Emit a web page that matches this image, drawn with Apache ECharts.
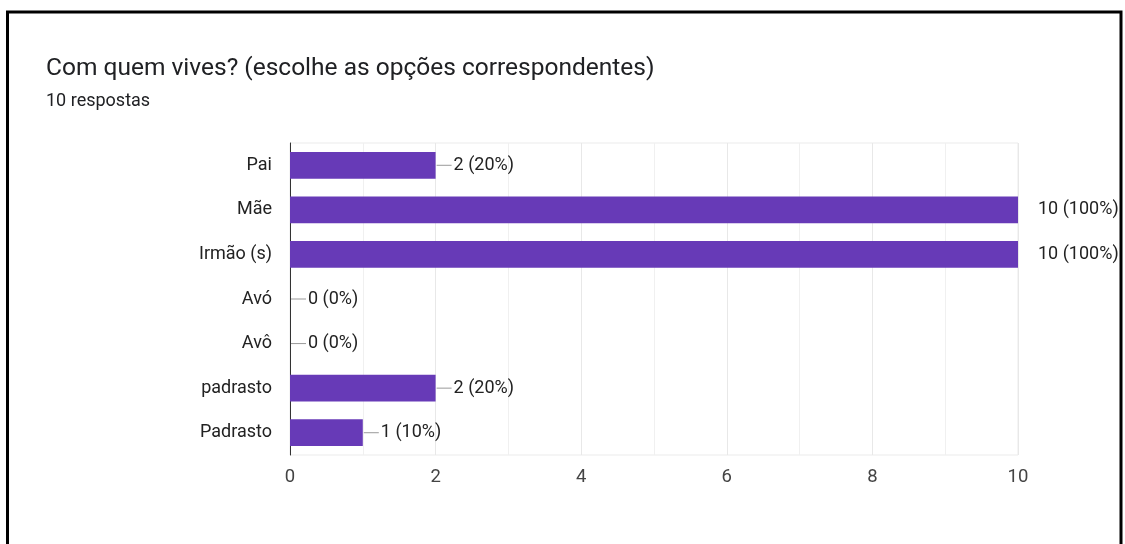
<!DOCTYPE html>
<html>
<head>
<meta charset="utf-8">
<script src="https://cdn.jsdelivr.net/npm/echarts@6/dist/echarts.min.js"></script>
<style>
html, body { margin: 0; padding: 0; background: #fff; }
#chart { width: 1125px; height: 544px; }
</style>
</head>
<body>
<div id="chart"></div>
<script>
// dados
var categorias = ['Pai', 'Mãe', 'Irmão (s)', 'Avó', 'Avô', 'padrasto', 'Padrasto'];
var respostas = [2, 10, 10, 0, 0, 2, 1];
var totalRespostas = 10;
var ticksX = [0, 2, 4, 6, 8, 10];

var myChart = echarts.init(document.getElementById('chart'));

var option = {
    backgroundColor: '#fff',
    textStyle: { fontFamily: 'Roboto' },
    animation: false,
    title: [{
        text: 'Com quem vives? (escolhe as opções correspondentes)',
        left: 46,
        top: 56,
        padding: 0,
        textStyle: { fontSize: 24.5, fontWeight: 'normal', color: '#202124', fontFamily: 'Roboto' }
    }, {
        text: totalRespostas + ' respostas',
        left: 46,
        top: 92,
        padding: 0,
        textStyle: { fontSize: 18, fontWeight: 'normal', color: '#202124', fontFamily: 'Roboto' }
    }],
    graphic: [{
        type: 'rect',
        z: 100,
        shape: { x: 7.5, y: 12, width: 1113.5, height: 600 },
        style: { fill: 'none', stroke: '#000', lineWidth: 3 }
    }],
    grid: {
        left: 290,
        right: 107,
        top: 143,
        height: 312,
        show: true,
        borderColor: '#ebebeb',
        borderWidth: 1
    },
    xAxis: {
        type: 'value',
        min: ticksX[0],
        max: ticksX[ticksX.length - 1],
        interval: 2,
        axisLine: { show: false },
        axisTick: { show: false },
        axisLabel: { fontSize: 18.5, color: '#444', margin: 13 },
        splitLine: { lineStyle: { color: '#e8e8e8' } },
        minorTick: { show: false, splitNumber: 2 },
        minorSplitLine: { show: true, lineStyle: { color: '#f0f0f0' } }
    },
    yAxis: {
        type: 'category',
        data: categorias,
        inverse: true,
        axisLine: { show: true, lineStyle: { color: '#333', width: 1 } },
        axisTick: { show: false },
        axisLabel: { fontSize: 18, color: '#222', margin: 18 },
        splitLine: { show: false }
    },
    series: [{
        type: 'bar',
        data: respostas,
        barWidth: '60%',
        itemStyle: { color: '#673ab7' },
        label: {
            show: true,
            position: 'right',
            distance: 1,
            formatter: function (p) {
                var txt = p.value + ' (' + Math.round(p.value / totalRespostas * 100) + '%)';
                if (p.value === ticksX[ticksX.length - 1]) {
                    return '{g|}{t|' + txt + '}';
                }
                return '{l|}{t|' + txt + '}';
            },
            rich: {
                l: { width: 15, height: 1, backgroundColor: '#999' },
                g: { width: 17, height: 1 },
                t: { fontSize: 18, color: '#222', padding: [0, 0, 0, 2], fontFamily: 'Roboto' }
            }
        }
    }]
};

myChart.setOption(option);
</script>
</body>
</html>
